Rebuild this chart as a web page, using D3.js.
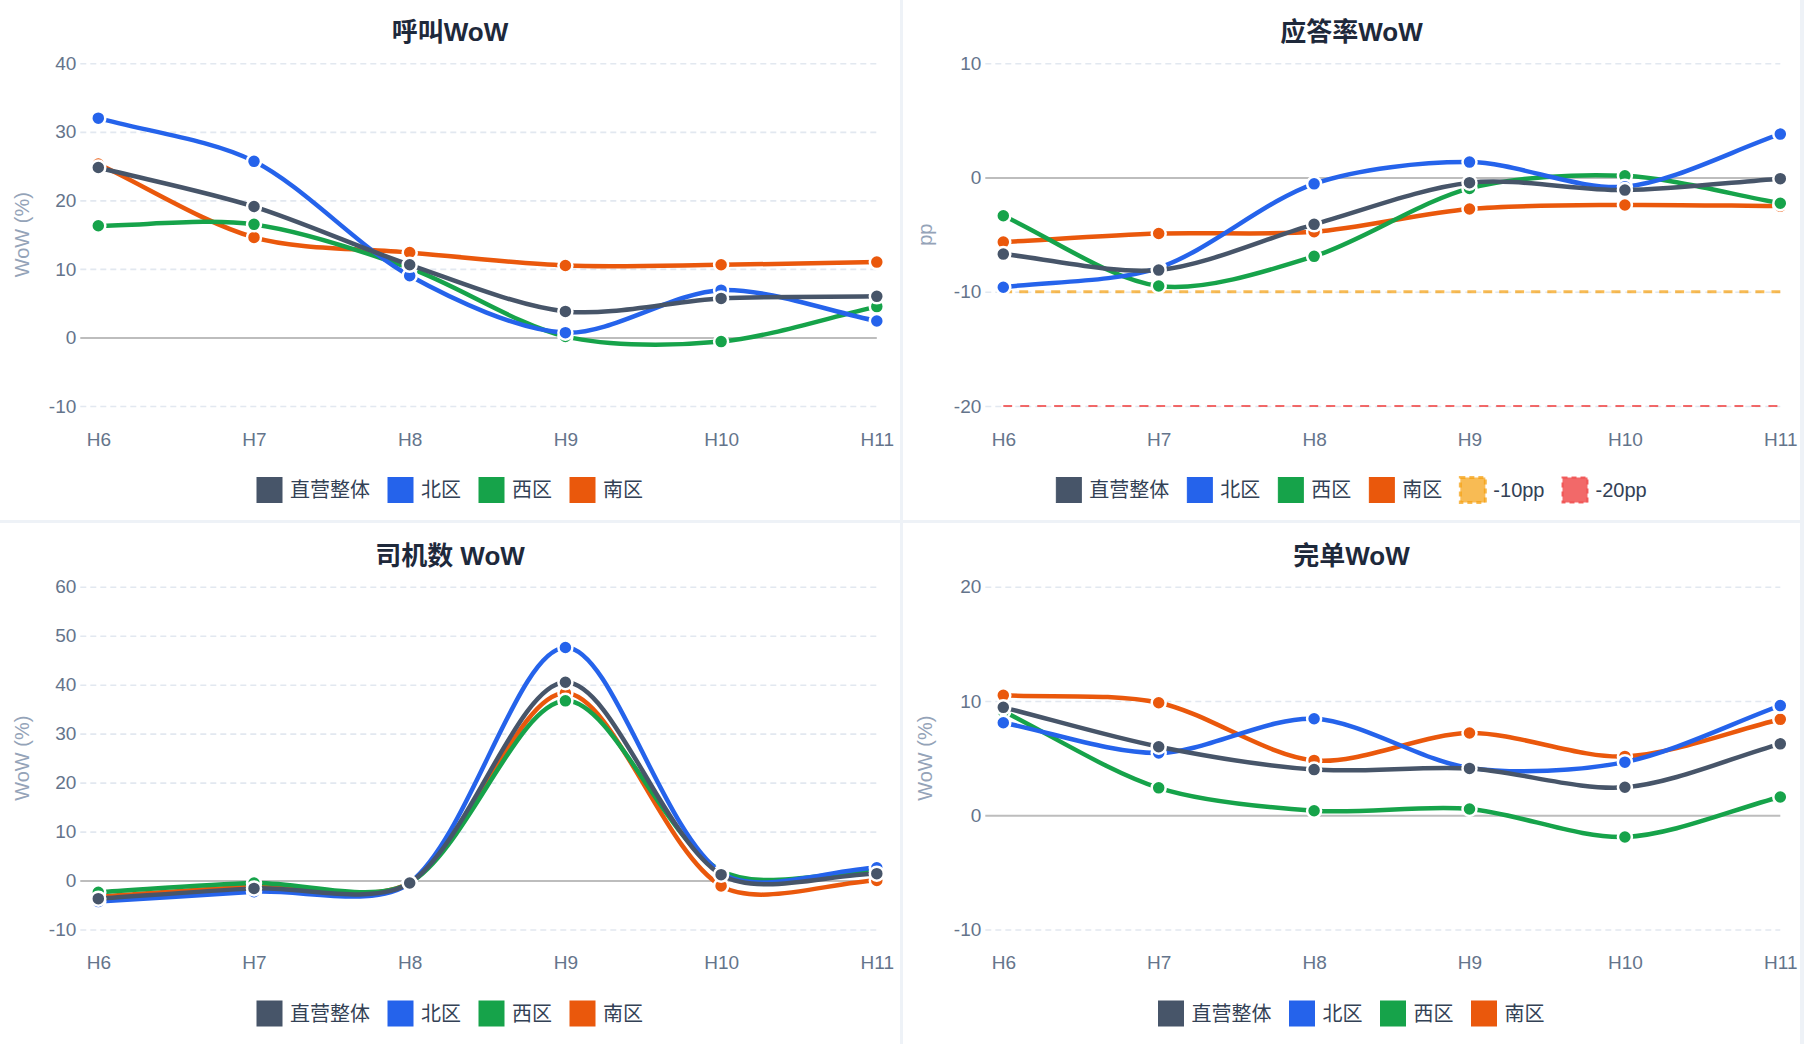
<!DOCTYPE html>
<html>
<head>
<meta charset="utf-8">
<script src="https://cdn.jsdelivr.net/npm/d3@7"></script>
<style>
  body { margin: 0; background: #eef2f7; }
  svg { display: block; font-family: "Liberation Sans", Arial, "Noto Sans CJK SC", sans-serif; }
</style>
</head>
<body>
<svg id="chart"></svg>
<script>
const hours = ["H6", "H7", "H8", "H9", "H10", "H11"];
const regions = ["直营整体", "北区", "西区", "南区"];
const colors = ["#475569", "#2563eb", "#16a34a", "#ea580c"];

// 呼叫WoW (%)
const callTotal = [24.8, 19.1, 10.6, 3.8, 5.7, 6.0];
const callNorth = [32.0, 25.7, 9.0, 0.7, 6.9, 2.4];
const callWest = [16.3, 16.5, 10.1, 0.15, -0.6, 4.5];
const callSouth = [25.3, 14.6, 12.4, 10.5, 10.6, 11.0];
const callTicks = [-10, 0, 10, 20, 30, 40];

// 应答率WoW (pp)
const ansTotal = [-6.7, -8.1, -4.1, -0.45, -1.1, -0.1];
const ansNorth = [-9.6, -7.9, -0.55, 1.35, -0.8, 3.8];
const ansWest = [-3.35, -9.5, -6.9, -0.95, 0.15, -2.25];
const ansSouth = [-5.65, -4.9, -4.75, -2.75, -2.4, -2.5];
const ansTicks = [-20, -10, 0, 10];
const thresholdNames = ["-10pp", "-20pp"];
const thresholdValues = [-10, -20];

// 司机数 WoW (%)
const drvTotal = [-3.7, -1.6, -0.5, 40.5, 1.2, 1.4];
const drvNorth = [-4.3, -2.3, -0.5, 47.6, 1.6, 2.6];
const drvWest = [-2.4, -0.5, -0.5, 36.7, 2.0, 1.9];
const drvSouth = [-3.3, -1.2, -0.4, 38.3, -1.1, 0.0];
const drvTicks = [-10, 0, 10, 20, 30, 40, 50, 60];

// 完单WoW (%)
const doneTotal = [9.45, 6.0, 4.0, 4.1, 2.45, 6.25];
const doneNorth = [8.1, 5.45, 8.45, 4.15, 4.65, 9.6];
const doneWest = [9.1, 2.4, 0.4, 0.55, -1.9, 1.6];
const doneSouth = [10.5, 9.85, 4.8, 7.2, 5.15, 8.4];
const doneTicks = [-10, 0, 10, 20];

const width = 1804;
const height = 1044;

const panels = [
  { title: "呼叫WoW", yTitle: "WoW (%)", ticks: callTicks, series: [callTotal, callNorth, callWest, callSouth] },
  { title: "应答率WoW", yTitle: "pp", ticks: ansTicks, series: [ansTotal, ansNorth, ansWest, ansSouth], thresholds: true },
  { title: "司机数 WoW", yTitle: "WoW (%)", ticks: drvTicks, series: [drvTotal, drvNorth, drvWest, drvSouth] },
  { title: "完单WoW", yTitle: "WoW (%)", ticks: doneTicks, series: [doneTotal, doneNorth, doneWest, doneSouth] },
];

const cards = [
  { x: 0, y: 0, w: 900, h: 520 },
  { x: 903, y: 0, w: 897, h: 520 },
  { x: 0, y: 523, w: 900, h: 521 },
  { x: 903, y: 523, w: 897, h: 521 },
];

const thresholdStyles = [
  { color: "rgba(245,158,11,0.7)", width: 3, dash: "9,7" },
  { color: "rgba(239,68,68,0.8)", width: 2, dash: "9,8" },
];

// spline like Chart.js (distance-weighted control points)
function curveSpline(context) {
  let pts = [];
  return {
    areaStart() {},
    areaEnd() {},
    lineStart() { pts = []; },
    point(x, y) { pts.push([+x, +y]); },
    lineEnd() {
      const n = pts.length, t = 0.3;
      const cps = pts.map((p, i) => {
        const a = pts[Math.max(i - 1, 0)], b = pts[Math.min(i + 1, n - 1)];
        const d01 = Math.hypot(p[0] - a[0], p[1] - a[1]);
        const d12 = Math.hypot(b[0] - p[0], b[1] - p[1]);
        const s = d01 + d12 || 1;
        const fa = t * d01 / s, fb = t * d12 / s;
        return {
          prev: [p[0] - fa * (b[0] - a[0]), p[1] - fa * (b[1] - a[1])],
          next: [p[0] + fb * (b[0] - a[0]), p[1] + fb * (b[1] - a[1])],
        };
      });
      context.moveTo(pts[0][0], pts[0][1]);
      for (let i = 1; i < n; i++) {
        context.bezierCurveTo(cps[i - 1].next[0], cps[i - 1].next[1], cps[i].prev[0], cps[i].prev[1], pts[i][0], pts[i][1]);
      }
    },
  };
}

const svg = d3.select("#chart").attr("width", width).attr("height", height);

svg.append("rect").attr("width", width).attr("height", height).attr("fill", "#eef2f7");

panels.forEach((panel, i) => {
  const c = cards[i];
  const oy = i < 2 ? 0 : 523.5;
  const left = c.x + (i % 2 ? 100.3 : 98.3);
  const right = c.x + (i % 2 ? 877.3 : 876.8);
  const cx = c.x + c.w / 2;

  const g = svg.append("g");
  g.append("rect")
    .attr("x", c.x).attr("y", c.y).attr("width", c.w).attr("height", c.h)
    .attr("fill", "#ffffff");

  const x = d3.scalePoint().domain(hours).range([left, right]);
  const y = d3.scaleLinear()
    .domain(d3.extent(panel.ticks))
    .range([oy + 406, oy + 63.3]);

  // title
  g.append("text")
    .attr("x", cx).attr("y", oy + 32)
    .attr("text-anchor", "middle").attr("dominant-baseline", "central")
    .attr("font-size", 26).attr("font-weight", "bold").attr("fill", "#1e293b")
    .text(panel.title);

  // y axis + grid
  const yAxis = g.append("g")
    .attr("transform", `translate(${left - 18},0)`)
    .call(d3.axisLeft(y).tickValues(panel.ticks).tickFormat((d) => String(d))
      .tickSize(-(right - left + 18)).tickPadding(4));
  yAxis.select(".domain").remove();
  yAxis.attr("font-family", null);
  yAxis.selectAll(".tick line")
    .attr("stroke", (d) => (d === 0 ? "#bdbdbd" : "#e2e8f0"))
    .attr("stroke-width", (d) => (d === 0 ? 2 : 1.6))
    .attr("stroke-dasharray", (d) => (d === 0 ? null : "6,4"));
  yAxis.selectAll(".tick text")
    .attr("font-size", 19).attr("fill", "#64748b");

  // y title
  g.append("text")
    .attr("transform", `translate(${c.x + 21.7},${oy + 234.7}) rotate(-90)`)
    .attr("text-anchor", "middle").attr("dominant-baseline", "central")
    .attr("font-size", 20).attr("fill", "#94a3b8")
    .text(panel.yTitle);

  // x axis
  const xAxis = g.append("g")
    .attr("transform", `translate(0,${oy + 439.3})`)
    .call(d3.axisBottom(x).tickSize(0).tickPadding(0));
  xAxis.select(".domain").remove();
  xAxis.attr("font-family", null);
  xAxis.selectAll(".tick text")
    .attr("y", 0).attr("dy", "0.35em")
    .attr("font-size", 19).attr("fill", "#64748b");

  const line = d3.line()
    .x((d, k) => x(hours[k]))
    .y((d) => y(d))
    .curve(curveSpline);

  // threshold lines
  if (panel.thresholds) {
    thresholdValues.forEach((v, k) => {
      const st = thresholdStyles[k];
      g.append("path")
        .attr("fill", "none")
        .attr("stroke", st.color)
        .attr("stroke-width", st.width)
        .attr("stroke-dasharray", st.dash)
        .attr("d", line(hours.map(() => v)));
    });
  }

  // series, first dataset on top
  for (let s = panel.series.length - 1; s >= 0; s--) {
    const data = panel.series[s];
    g.append("path")
      .attr("fill", "none")
      .attr("stroke", colors[s])
      .attr("stroke-width", 4.5)
      .attr("stroke-linejoin", "round")
      .attr("d", line(data));
    g.append("g")
      .selectAll("circle")
      .data(data)
      .join("circle")
      .attr("cx", (d, k) => x(hours[k]))
      .attr("cy", (d) => y(d))
      .attr("r", 7)
      .attr("fill", colors[s])
      .attr("stroke", "#ffffff")
      .attr("stroke-width", 2.5);
  }

  // legend
  const items = regions.map((name, k) => ({ name, fill: colors[k], stroke: colors[k], width: 1, dash: null }));
  if (panel.thresholds) {
    thresholdNames.forEach((name, k) => {
      const st = thresholdStyles[k];
      items.push({ name, fill: st.color, stroke: st.color, width: st.width, dash: "5,4" });
    });
  }
  const legend = g.append("g");
  const box = 25, gap = 8, spacing = 18;
  const ly = oy + 490;
  const entries = items.map((it) => {
    const eg = legend.append("g");
    eg.append("rect")
      .attr("width", box).attr("height", box)
      .attr("y", ly - box / 2)
      .attr("fill", it.fill)
      .attr("stroke", it.stroke)
      .attr("stroke-width", it.width)
      .attr("stroke-dasharray", it.dash);
    const t = eg.append("text")
      .attr("x", box + gap).attr("y", ly)
      .attr("dominant-baseline", "central")
      .attr("font-size", 20).attr("fill", "#334155")
      .text(it.name);
    return { eg, w: box + gap + t.node().getComputedTextLength() };
  });
  const total = d3.sum(entries, (e) => e.w) + spacing * (entries.length - 1);
  let lx = cx - total / 2;
  entries.forEach((e) => {
    e.eg.attr("transform", `translate(${lx},0)`);
    lx += e.w + spacing;
  });
});
</script>
</body>
</html>
